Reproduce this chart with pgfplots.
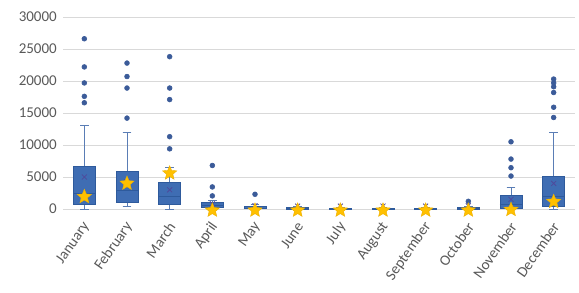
\documentclass[border=0pt]{standalone}
\usepackage{fontspec}
\setmainfont{Carlito}
\usepackage{pgfplots}
\pgfplotsset{compat=1.18}
\usepgfplotslibrary{statistics}
\definecolor{boxblue}{HTML}{3F6DB3}
\definecolor{boxedge}{HTML}{2E5A9C}
\definecolor{whisk}{HTML}{5A7DB5}
\definecolor{outl}{HTML}{3B5B99}
\definecolor{starc}{HTML}{FFC000}
\definecolor{stare}{HTML}{EDB000}
\definecolor{gridc}{HTML}{D9D9D9}
\definecolor{txt}{HTML}{595959}
\definecolor{meanc}{HTML}{4F4A9C}
\pgfdeclareplotmark{fstar}{%
  \pgfpathmoveto{\pgfpoint{0pt}{\pgfplotmarksize}}%
  \pgfpathlineto{\pgfpoint{-0.2645\pgfplotmarksize}{0.3641\pgfplotmarksize}}%
  \pgfpathlineto{\pgfpoint{-0.9511\pgfplotmarksize}{0.3090\pgfplotmarksize}}%
  \pgfpathlineto{\pgfpoint{-0.4280\pgfplotmarksize}{-0.1391\pgfplotmarksize}}%
  \pgfpathlineto{\pgfpoint{-0.5878\pgfplotmarksize}{-0.8090\pgfplotmarksize}}%
  \pgfpathlineto{\pgfpoint{0pt}{-0.45\pgfplotmarksize}}%
  \pgfpathlineto{\pgfpoint{0.5878\pgfplotmarksize}{-0.8090\pgfplotmarksize}}%
  \pgfpathlineto{\pgfpoint{0.4280\pgfplotmarksize}{-0.1391\pgfplotmarksize}}%
  \pgfpathlineto{\pgfpoint{0.9511\pgfplotmarksize}{0.3090\pgfplotmarksize}}%
  \pgfpathlineto{\pgfpoint{0.2645\pgfplotmarksize}{0.3641\pgfplotmarksize}}%
  \pgfpathclose
  \pgfusepathqfillstroke
}
\pgfplotsset{
  mybox/.style={
    solid, draw=boxedge, fill=boxblue, line width=0.6bp,
    mark=*, mark size=2.4bp, mark options={draw=outl, fill=outl, solid},
    boxplot/draw direction=y,
    boxplot/box extend=0.52, boxplot/whisker extend=0.2,
    boxplot/every whisker/.style={draw=whisk, line width=0.8bp},
    boxplot/every median/.style={draw=boxedge, line width=0.6bp},
  }
}
\begin{document}
\begin{tikzpicture}
\path (-63bp,-84bp) rectangle (516bp,209bp);
\begin{axis}[
  scale only axis, width=512bp, height=192bp,
  xmin=-0.5, xmax=11.5, ymin=0, ymax=30000,
  xtick={0,...,11},
  xticklabels={January,February,March,April,May,June,July,August,September,October,November,December},
  x tick label style={xshift=3bp, yshift=-14bp, rotate=55, anchor=east, inner sep=1bp, font=\fontsize{15bp}{17bp}\selectfont, text=txt},
  ytick={0,5000,...,30000},
  scaled y ticks=false,
  /pgf/number format/1000 sep={},
  /pgf/number format/assume math mode=true,
  y tick label style={font=\fontsize{15bp}{17bp}\selectfont, text=txt, inner sep=0pt, xshift=-6bp},
  axis lines*=left,
  x axis line style={draw=gridc, line width=0.8bp},
  y axis line style={draw=none},
  ymajorgrids, grid style={draw=gridc, line width=0.7bp},
  major tick length=0pt,
  clip=false,
]
% January
\addplot[mybox, boxplot prepared={draw position=0, lower whisker=0, lower quartile=780, median=2500, upper quartile=6620, upper whisker=13000}]
  coordinates {(0,26600) (0,22200) (0,19700) (0,17600) (0,16600)};
% February
\addplot[mybox, boxplot prepared={draw position=1, lower whisker=360, lower quartile=1050, median=3000, upper quartile=5950, upper whisker=12000}]
  coordinates {(1,22800) (1,20700) (1,18900) (1,14200)};
% March
\addplot[mybox, boxplot prepared={draw position=2, lower whisker=0, lower quartile=780, median=2000, upper quartile=4100, upper whisker=6500}]
  coordinates {(2,23800) (2,18900) (2,17100) (2,11300) (2,9400)};
% April
\addplot[mybox, boxplot prepared={draw position=3, lower whisker=0, lower quartile=300, median=600, upper quartile=1100, upper whisker=1300}]
  coordinates {(3,6800) (3,3450) (3,2050)};
% May
\addplot[mybox, boxplot prepared={draw position=4, lower whisker=0, lower quartile=50, median=150, upper quartile=400, upper whisker=700}]
  coordinates {(4,2300)};
% June
\addplot[mybox, boxplot prepared={draw position=5, lower whisker=0, lower quartile=30, median=80, upper quartile=250, upper whisker=400}]
  coordinates {};
% July
\addplot[mybox, boxplot prepared={draw position=6, lower whisker=0, lower quartile=20, median=50, upper quartile=150, upper whisker=250}]
  coordinates {};
% August
\addplot[mybox, boxplot prepared={draw position=7, lower whisker=0, lower quartile=20, median=50, upper quartile=150, upper whisker=250}]
  coordinates {};
% September
\addplot[mybox, boxplot prepared={draw position=8, lower whisker=0, lower quartile=20, median=50, upper quartile=120, upper whisker=200}]
  coordinates {};
% October
\addplot[mybox, boxplot prepared={draw position=9, lower whisker=0, lower quartile=30, median=80, upper quartile=250, upper whisker=400}]
  coordinates {(9,1200)};
% November
\addplot[mybox, boxplot prepared={draw position=10, lower whisker=0, lower quartile=100, median=700, upper quartile=2200, upper whisker=3300}]
  coordinates {(10,10500) (10,7800) (10,6450) (10,5150)};
% December
\addplot[mybox, boxplot prepared={draw position=11, lower whisker=0, lower quartile=470, median=2000, upper quartile=5150, upper whisker=12000}]
  coordinates {(11,20300) (11,19700) (11,19100) (11,18200) (11,15900) (11,14300)};
% means
\addplot[only marks, mark=x, mark size=3.5bp, mark options={draw=meanc, line width=0.8bp}]
  coordinates {(0,5000) (1,4300) (2,3000) (3,800) (4,500) (5,450) (6,450) (7,450) (8,450) (9,500) (10,1500) (11,4000)};
% stars
\addplot[only marks, mark=fstar, mark size=7.5bp, mark options={fill=starc, draw=stare, line width=0.4bp}]
  coordinates {(0,1920) (1,4000) (2,5600) (3,-200) (4,-200) (5,-200) (6,-200) (7,-200) (8,-200) (9,-200) (10,-100) (11,1150)};
\end{axis}
\end{tikzpicture}
\end{document}
